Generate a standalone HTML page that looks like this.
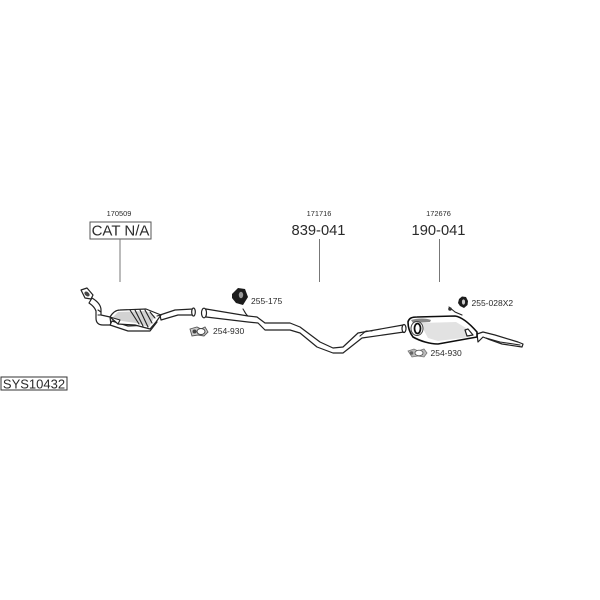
<!DOCTYPE html>
<html><head><meta charset="utf-8"><style>
html,body{margin:0;padding:0;background:#fff}
svg{display:block}
text{font-family:"Liberation Sans",sans-serif;fill:#2a2a2a}
.o{fill:#fff;stroke:#222;stroke-width:1.200;stroke-linejoin:round;stroke-linecap:round}
.l{fill:none;stroke:#222;stroke-width:1.100;stroke-linejoin:round;stroke-linecap:round}
.g{fill:none;stroke:#777;stroke-width:1}
</style></head><body>
<svg width="600" height="600" viewBox="0 0 600 600" xmlns="http://www.w3.org/2000/svg">
<defs><filter id="b" x="-5%" y="-5%" width="110%" height="110%"><feGaussianBlur stdDeviation="0.35"/></filter></defs>
<rect width="600" height="600" fill="#fff"/>

<!-- labels -->
<text x="119" y="216" font-size="7.400" text-anchor="middle">170509</text>
<text x="319" y="216" font-size="7.400" text-anchor="middle">171716</text>
<text x="438.500" y="216" font-size="7.400" text-anchor="middle">172676</text>
<rect x="90" y="222" width="61" height="17" fill="#fff" stroke="#555"/>
<text x="120.500" y="235.500" font-size="15" text-anchor="middle">CAT N/A</text>
<text x="318.500" y="235" font-size="14.700" text-anchor="middle">839-041</text>
<text x="438.500" y="235" font-size="14.700" text-anchor="middle">190-041</text>
<line class="g" x1="120" y1="239" x2="120" y2="282"/>
<line class="g" x1="319.500" y1="239" x2="319.500" y2="282"/>
<line class="g" x1="439.500" y1="239" x2="439.500" y2="282"/>
<rect x="1" y="377" width="66" height="13" fill="#fff" stroke="#333"/>
<text x="34" y="388.500" font-size="13" text-anchor="middle">SYS10432</text>

<g filter="url(#b)">
<!-- catalytic converter -->
<path class="o" d="M92 298 C97 301 101 305 101 310 L101 315 L110 317 L111 325 L103 325 C98 325 96 322 96 318 L96 311 C95 308 92 305 89 303 Z"/>
<path class="l" d="M98 310 L101 312 M98 315 L101 315"/>
<path class="o" d="M81 290 L87 288 L93 295 L91 299 L85 298 Z" stroke-width="1.500"/>
<ellipse cx="87" cy="294" rx="3" ry="2" transform="rotate(40 87 294)" fill="#444"/>
<path class="o" d="M160 315 L175 310 L193 309 L194 315 L178 315 L161 320 Z"/>
<ellipse cx="193.500" cy="312" rx="1.800" ry="4" class="o"/>
<path class="o" d="M110 325 L128 331 L150 331 L157 322 L150 325 L128 326 L112 321 Z"/>
<path class="o" d="M110 317 C113 312 116 310 120 310 L146 309 L161 315 L156 322 L150 329 L135 325 L118 324 Z"/>
<path d="M118 312 L146 311 L155 316 L149 327 L136 323 L122 321 L113 317 Z" fill="#d2d2d2"/>
<path class="l" d="M130 310 L139 324 M135 310 L143 326 M140 310 L148 327 M145 310 L152 323 M150 312 L155 318" stroke-width=".9"/>
<path class="l" d="M110 317 L120 320 L118 324"/>
<path class="l" d="M157 316 L161 315"/>

<!-- middle pipe -->
<path class="o" d="M206 309 L248 316 L257 317 L265 323 L290 323 L300 327 L320 342 L333 348 L343 347 L358 333 L403 325 L404 332 L362 338 L343 353 L333 353 L317 347 L300 333 L290 330 L265 330 L258 323 L248 322 L206 317 Z"/>
<ellipse cx="204" cy="313" rx="2.500" ry="4.800" class="o" stroke-width="1.800"/>
<path class="l" d="M243 309 C245 312 246 315 248 316"/>
<ellipse cx="404" cy="328.500" rx="2" ry="4" class="o"/>
<path class="l" d="M360 336 L366 331 L372 331"/>

<!-- hanger 255-175 -->
<path d="M232 294 L238 288 L245 289 L248 297 L243 305 L236 303 L232 298 Z" fill="#1a1a1a"/>
<ellipse cx="241" cy="295" rx="2.200" ry="3.200" fill="#999"/>
<text x="251" y="304" font-size="8.500" style="filter:none">255-175</text>

<!-- gasket 254-930 left -->
<path d="M190 329 L197 327 L201 329 L205 327 L208 332 L204 336 L198 335 L192 336 Z" fill="#ccc" stroke="#555" stroke-width=".9"/>
<ellipse cx="201" cy="331.500" rx="4" ry="3" fill="#fff" stroke="#444"/>
<circle cx="194.500" cy="331.500" r="2" fill="#444"/>

<!-- rear muffler -->
<path class="o" d="M477 334 L483 332 L495 335 L518 342 L523 344 L522 347 L502 344 L488 339 L483 337 L478 342 Z" stroke-width="1"/>
<path class="l" d="M486 338 L500 342 L520 345" stroke-width=".9"/>
<path d="M408 322 C409 318 412 317 417 317 L455 316 C462 317 470 324 477 332 L477 337 L438 344 C430 344 420 341 413 337 C410 333 408 328 408 322 Z" fill="#fff" stroke="#111" stroke-width="1.600" stroke-linejoin="round"/>
<path d="M420 323 L456 322 L466 328 L470 337 L438 341 L428 338 Z" fill="#e2e2e2"/>
<path d="M411 320 C418 318 426 318 431 320 L430 322 L413 323 Z" fill="#888"/>
<ellipse cx="417" cy="328.500" rx="6" ry="7" fill="#fff" stroke="#444" stroke-width="1"/>
<ellipse cx="417.500" cy="328.500" rx="3" ry="5" fill="#fff" stroke="#111" stroke-width="1.800"/>
<path class="o" d="M465 330 L468 329 L473 335 L467 336 Z" stroke-width="1.300"/>
<path class="l" d="M449 307 L455 312 L462 315"/>
<circle cx="450" cy="309" r="1.800" fill="#333"/>
<path d="M459 299 L462 296.500 L466 297 L468 301 L467.500 305 L464 308 L460 306 L458 303 Z" fill="#1a1a1a"/>
<ellipse cx="463.500" cy="302" rx="1.600" ry="2.600" fill="#ccc"/>

<!-- gasket 254-930 right -->
<path d="M408 351 L414 349 L418 351 L424 349 L427 353 L424 357 L418 356 L412 357 Z" fill="#bbb" stroke="#777" stroke-width=".8"/>
<ellipse cx="419" cy="353" rx="4" ry="2.800" fill="#fff" stroke="#555" stroke-width=".8"/>
<circle cx="411.500" cy="353" r="1.800" fill="#666"/>
</g>

<text x="213" y="334" font-size="8.500">254-930</text>
<text x="471.500" y="306" font-size="8.500">255-028X2</text>
<text x="430.500" y="356" font-size="8.500">254-930</text>
</svg>
</body></html>
